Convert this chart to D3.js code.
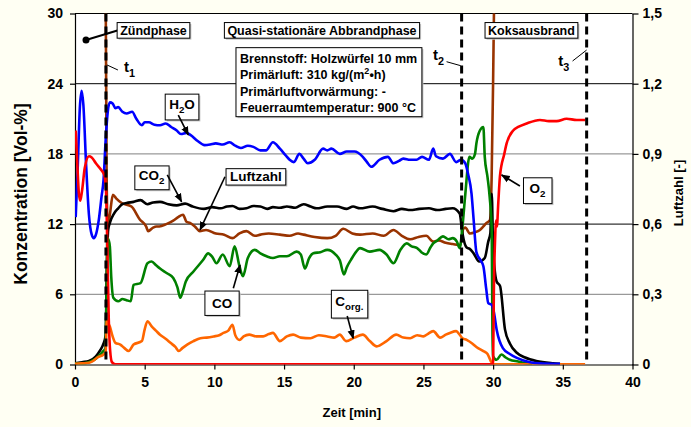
<!DOCTYPE html>
<html>
<head>
<meta charset="utf-8">
<script src="https://cdn.jsdelivr.net/npm/d3@7"></script>
<style>
  body { margin: 0; background: #fffff3; }
  svg text { font-family: "Liberation Sans", Arial, sans-serif; font-weight: bold; fill: #000; }
</style>
</head>
<body>
<svg id="chart"></svg>
<script>
// --- data: [Zeit in min, value] ---
var xTicks = [0, 5, 10, 15, 20, 25, 30, 35, 40];
var yTicks = [0, 6, 12, 18, 24, 30];
var y2Ticks = [0, 0.3, 0.6, 0.9, 1.2, 1.5];
var phaseTimes = [2.22, 27.74, 36.71];   // t1, t2, t3

var h2o = [[0.05,12.6],[0.2,17],[0.35,22],[0.48,23.4],[0.6,22.2],[0.8,17],[1.0,12.8],[1.2,11.1],[1.35,10.8],[1.5,11.1],[1.7,12.3],[1.9,14.3],[2.05,15.8],[2.2,19.2],[2.35,21.6],[2.5,22.4],[2.7,22.3],[2.9,21.9],[3.1,22.0],[3.4,21.6],[3.7,21.45],[4.1,21.6],[4.4,21.0],[4.8,20.45],[5.0,20.7],[5.3,20.7],[5.7,20.5],[6.1,20.45],[6.5,20.6],[6.9,20.3],[7.3,20.0],[7.6,19.7],[8.0,19.8],[8.3,19.6],[8.8,19.1],[9.3,18.75],[9.7,18.8],[10.1,18.9],[10.6,18.8],[11.1,19.0],[11.5,18.7],[11.9,18.5],[12.4,18.7],[12.8,18.6],[13.3,18.3],[13.7,18.3],[14.2,19.0],[14.7,18.45],[15.1,17.9],[15.4,17.5],[15.7,17.3],[16.1,18.0],[16.4,17.6],[16.7,17.2],[17.2,17.5],[17.8,18.45],[18.1,18.3],[18.4,18.45],[19.0,18.0],[19.5,18.2],[20.05,18.2],[20.65,17.75],[20.95,17.3],[21.25,16.9],[21.85,17.5],[22.45,17.75],[22.85,17.2],[23.25,17.4],[23.55,17.6],[24.05,17.5],[24.5,17.5],[24.9,17.75],[25.4,17.5],[25.7,18.45],[25.9,17.8],[26.4,17.6],[26.9,18.0],[27.35,17.3],[27.7,17.5],[28.0,17.2],[28.2,16.3],[28.45,14.6],[28.6,12.4],[28.8,9.6],[29.1,8.9],[29.3,8.4],[29.5,6.5],[29.65,5.25],[29.9,5.1],[30.05,4.5],[30.25,3.0],[30.7,1.4],[31.2,0.9],[31.7,0.57],[32.65,0.2],[33.3,0.1],[34.8,0.05]];

var co2 = [[0,0.1],[0.5,0.2],[1.0,0.3],[1.5,0.7],[1.8,1.2],[2.05,1.8],[2.2,2.5],[2.28,8],[2.38,11.5],[2.5,12.1],[2.8,12.9],[3.1,13.35],[3.4,13.7],[3.7,13.8],[4.2,13.9],[4.7,14.05],[5.2,13.7],[5.6,13.85],[6.1,13.9],[6.7,13.7],[7.3,13.6],[7.9,13.75],[8.45,13.5],[9.25,13.3],[9.85,13.45],[10.45,13.35],[10.9,13.5],[11.3,13.55],[11.8,13.3],[12.3,13.35],[12.8,13.55],[13.3,13.5],[13.8,13.3],[14.2,13.45],[14.7,13.4],[15.2,13.5],[15.8,13.4],[16.4,13.7],[16.9,13.5],[17.35,13.35],[18.1,13.5],[18.8,13.5],[19.5,13.3],[19.95,13.5],[20.45,13.35],[21.35,13.5],[22.05,13.3],[22.85,13.1],[23.45,13.3],[24.05,13.2],[24.7,13.3],[25.4,13.35],[26.0,13.2],[26.6,13.3],[27.1,13.35],[27.6,12.9],[27.8,11.2],[28.1,10.0],[28.3,9.9],[28.6,9.5],[29.0,8.8],[29.4,9.1],[29.65,10.5],[29.8,11.2],[29.9,14.6],[30.0,10],[30.25,7.1],[30.5,6.7],[30.85,3.0],[31.2,1.8],[31.7,1.0],[32.3,0.6],[33.1,0.3],[34.3,0.1],[34.8,0.05]];

var co = [[0,0.1],[0.5,0.1],[1.0,0.2],[1.5,0.5],[2.0,1.1],[2.18,1.4],[2.25,5],[2.32,10.8],[2.42,10.6],[2.5,10.1],[2.6,7.5],[2.75,5.7],[3.1,5.4],[3.4,5.6],[3.7,5.5],[4.0,5.4],[4.2,6.8],[4.7,6.95],[5.2,8.65],[5.5,8.8],[5.8,8.5],[6.1,8.2],[6.6,7.8],[7.05,7.4],[7.35,6.6],[7.55,5.7],[7.75,6.3],[7.95,7.1],[8.5,7.95],[9.2,8.95],[9.55,9.5],[9.85,9.2],[10.15,8.65],[10.6,9.4],[11.1,8.4],[11.45,10.1],[11.8,8.4],[12.05,7.55],[12.4,9.1],[12.9,9.8],[13.3,9.5],[13.75,9.25],[14.2,9.1],[14.7,9.25],[15.2,9.25],[15.9,9.65],[16.2,9.4],[16.5,8.2],[16.8,9.1],[17.1,9.5],[17.6,9.6],[18.1,9.8],[18.7,9.4],[19.0,8.9],[19.3,7.7],[19.5,8.3],[19.8,8.95],[20.15,9.6],[20.45,9.95],[21.15,9.65],[21.85,9.8],[22.35,9.4],[22.85,8.65],[23.35,9.8],[23.8,10.35],[24.15,10.1],[24.55,9.95],[24.85,9.6],[25.2,9.4],[25.5,10.0],[25.7,10.35],[26.0,10.6],[26.4,10.95],[26.8,10.7],[27.1,10.8],[27.4,10.5],[27.6,9.95],[27.8,11.8],[28.0,14.5],[28.3,17.75],[28.5,17.6],[28.7,18.0],[28.8,18.9],[29.05,20.0],[29.3,20.3],[29.4,17.75],[29.6,16.0],[29.75,14.35],[29.9,11.5],[29.95,3],[30.0,0.7],[30.25,0.4],[30.6,0.85],[30.9,0.6],[31.2,0.4],[31.8,0.25],[32.2,0.14],[32.8,0.05]];

var corg = [[0,0.05],[0.5,0.1],[1.0,0.15],[1.3,0.3],[1.6,0.6],[2.05,0.85],[2.2,1.1],[2.28,3.8],[2.4,3.5],[2.5,3.25],[2.7,2.4],[2.9,1.85],[3.25,1.7],[3.55,1.4],[3.85,1.15],[4.2,1.7],[4.8,2.0],[5.0,3.0],[5.2,3.7],[5.5,3.25],[5.8,2.9],[6.1,2.55],[6.5,2.2],[6.85,1.85],[7.2,1.5],[7.45,1.15],[7.7,1.4],[8.05,1.7],[8.5,2.0],[9.0,2.25],[9.45,2.3],[9.95,2.4],[10.35,2.5],[10.65,2.7],[11.0,2.9],[11.3,3.4],[11.5,2.5],[11.8,2.1],[12.1,2.4],[12.5,2.55],[13.0,2.4],[13.5,2.4],[13.9,2.6],[14.2,2.7],[14.7,2.0],[15.2,2.4],[15.65,2.55],[16.2,2.3],[16.9,2.25],[17.5,2.5],[18.1,2.4],[18.6,2.3],[19.0,2.55],[19.45,2.0],[20.05,2.3],[20.65,2.55],[21.15,2.0],[21.65,1.55],[22.35,2.0],[23.05,2.55],[23.55,2.3],[24.05,2.25],[24.55,2.5],[25.0,2.4],[25.3,2.6],[25.7,2.85],[26.2,2.3],[26.6,2.55],[26.9,2.7],[27.35,2.85],[27.6,2.55],[27.8,2.25],[28.1,2.1],[28.5,1.8],[28.8,1.5],[29.3,1.15],[29.6,0.9],[29.9,0.15],[30.1,0.02],[36.6,0.02]];

var o2 = [[0.05,20.0],[0.15,17.5],[0.28,14.6],[0.38,14.0],[0.5,14.8],[0.7,16.8],[1.0,17.8],[1.2,17.7],[1.5,17.2],[1.9,16.6],[2.1,16.2],[2.22,15],[2.32,10],[2.42,4],[2.52,1.2],[2.65,0.2],[2.9,0.02],[29.95,0.02],[30.0,0.3],[30.05,6],[30.15,11],[30.2,12.3],[30.27,11.8],[30.37,13.8],[30.49,16.1],[30.8,18.0],[30.97,18.9],[31.44,20.0],[31.8,20.3],[32.4,20.6],[33.36,20.9],[34.0,20.8],[34.56,20.8],[35.27,21.0],[36.0,20.9],[36.6,20.9]];

// Luftzahl on the right axis (values above 1,5 run off the top)
var lambda = [[2.2,1.6],[2.27,0.8],[2.35,0.59],[2.5,0.64],[2.72,0.725],[2.95,0.71],[3.35,0.69],[4.05,0.675],[4.65,0.62],[5.1,0.59],[5.25,0.57],[5.6,0.585],[5.85,0.59],[6.05,0.59],[6.55,0.6],[7.05,0.615],[7.4,0.63],[7.75,0.64],[8.0,0.61],[8.25,0.605],[8.6,0.59],[8.95,0.57],[9.4,0.575],[10.1,0.56],[10.7,0.555],[11.3,0.54],[11.8,0.56],[12.3,0.57],[12.9,0.55],[13.3,0.555],[13.9,0.56],[14.7,0.555],[15.4,0.55],[16.0,0.56],[16.4,0.555],[17.2,0.545],[18.1,0.54],[18.7,0.55],[19.25,0.58],[19.9,0.56],[20.45,0.555],[21.35,0.56],[22.15,0.55],[22.85,0.575],[23.45,0.55],[24.05,0.535],[24.65,0.545],[25.2,0.55],[25.7,0.525],[26.1,0.53],[26.6,0.52],[27.1,0.515],[27.65,0.51],[27.86,0.58],[28.0,0.585],[28.34,0.56],[28.7,0.565],[29.05,0.575],[29.3,0.59],[29.53,0.605],[29.77,0.617],[29.89,0.79],[30.0,1.215],[30.08,1.6]];

var width = 691, height = 427;
var svg = d3.select("#chart").attr("width", width).attr("height", height);

var x = d3.scaleLinear().domain([0, 40]).range([75, 632.5]);
var y = d3.scaleLinear().domain([0, 30]).range([364.5, 13.5]);
var y2 = d3.scaleLinear().domain([0, 1.5]).range([364.5, 13.5]);

var defs = svg.append("defs");
defs.append("clipPath").attr("id", "plotclip")
  .append("rect").attr("x", x(0)).attr("y", y(30)).attr("width", x(40) - x(0)).attr("height", y(0) - y(30));
defs.append("marker").attr("id", "arrow")
  .attr("viewBox", "0 0 10 10").attr("refX", 9).attr("refY", 5)
  .attr("markerUnits", "userSpaceOnUse").attr("markerWidth", 9).attr("markerHeight", 9)
  .attr("orient", "auto")
  .append("path").attr("d", "M0,1 L10,5 L0,9 z").attr("fill", "#000");

// plot area
svg.append("rect")
  .attr("x", x(0)).attr("y", y(30))
  .attr("width", x(40) - x(0)).attr("height", y(0) - y(30))
  .attr("fill", "#fff");

// gridlines
svg.append("g").selectAll("line").data(yTicks.filter(function(d){ return d > 0; }))
  .enter().append("line")
  .attr("x1", x(0)).attr("x2", x(40))
  .attr("y1", function(d){ return y(d); }).attr("y2", function(d){ return y(d); })
  .attr("stroke", function(d){ return (d % 12 === 0 || d === 30) ? "#000" : "#808080"; })
  .attr("stroke-width", 1);

// axes
function styleAxis(g, size) {
  g.select(".domain").attr("stroke", "#000").attr("stroke-width", 1.2);
  g.selectAll(".tick line").attr("stroke", "#000").attr("stroke-width", 1.2);
  g.selectAll(".tick text").attr("font-size", size).attr("font-family", "Liberation Sans, Arial, sans-serif").attr("font-weight", "bold").attr("fill", "#000");
}
var gx = svg.append("g").attr("transform", "translate(0," + y(0) + ")")
  .call(d3.axisBottom(x).tickValues(xTicks).tickSize(5).tickSizeOuter(0).tickPadding(8));
styleAxis(gx, 14);
var gy = svg.append("g").attr("transform", "translate(" + x(0) + ",0)")
  .call(d3.axisLeft(y).tickValues(yTicks).tickSize(5).tickSizeOuter(0).tickPadding(7));
styleAxis(gy, 14);
var commaFmt = function(d){ return d === 0 ? "0" : d.toFixed(1).replace(".", ","); };
var gy2 = svg.append("g").attr("transform", "translate(" + x(40) + ",0)")
  .call(d3.axisRight(y2).tickValues(y2Ticks).tickFormat(commaFmt).tickSize(6).tickSizeOuter(0).tickPadding(4));
styleAxis(gy2, 14);

// axis titles
svg.append("text").attr("x", (x(0) + x(40)) / 2 - 2).attr("y", 417)
  .attr("text-anchor", "middle").attr("font-size", 13).text("Zeit [min]");
svg.append("text").attr("transform", "translate(27,194) rotate(-90)")
  .attr("text-anchor", "middle").attr("font-size", 17.5).text("Konzentration [Vol-%]");
svg.append("text").attr("transform", "translate(678,193) rotate(-90)")
  .attr("text-anchor", "middle").attr("dominant-baseline", "central").attr("font-size", 13).text("Luftzahl [-]");

// series
var plot = svg.append("g").attr("clip-path", "url(#plotclip)");
function lineFor(scale) {
  return d3.line()
    .x(function(d){ return x(d[0]); })
    .y(function(d){ return scale(d[1]); })
    .curve(d3.curveMonotoneX);
}
var series = [
  { data: lambda, scale: y2, color: "#993300" },
  { data: co2, scale: y, color: "#000000" },
  { data: co, scale: y, color: "#008000" },
  { data: corg, scale: y, color: "#ff6600" },
  { data: h2o, scale: y, color: "#0000ff" },
  { data: o2, scale: y, color: "#ff0000" }
];
series.forEach(function(s) {
  plot.append("path").datum(s.data)
    .attr("d", lineFor(s.scale))
    .attr("fill", "none")
    .attr("stroke", s.color)
    .attr("stroke-width", 2.6)
    .attr("stroke-linejoin", "round");
});

// phase markers
svg.append("g").selectAll("line").data(phaseTimes).enter().append("line")
  .attr("x1", function(d){ return x(d); }).attr("x2", function(d){ return x(d); })
  .attr("y1", y(30)).attr("y2", y(0.38))
  .attr("stroke", "#000").attr("stroke-width", 3).attr("stroke-dasharray", "8,5");

// annotation helpers
var notes = svg.append("g");

function richText(g, parts, size) {
  var t = g.append("text").attr("font-size", size);
  var shift = 0;
  parts.forEach(function(p) {
    var sp = t.append("tspan").text(p.t);
    var target = p.sub ? size * 0.33 : (p.sup ? -size * 0.4 : 0);
    if (p.sub || p.sup) sp.attr("font-size", size * 0.72);
    if (target !== shift) { sp.attr("dy", target - shift); shift = target; }
  });
  return t;
}

function boxLabel(cx, cy, parts, size, padX, padY) {
  var g = notes.append("g");
  var t = richText(g, parts, size).attr("text-anchor", "middle").attr("x", x(cx)).attr("y", y(cy));
  var bb = t.node().getBBox();
  var top = y(cy) - size * 0.72 - padY, bottom = y(cy) + (parts.some(function(p){ return p.sub; }) ? size * 0.45 : size * 0.05) + padY;
  var left = bb.x - padX, w = bb.width + 2 * padX, h = bottom - top;
  g.insert("rect", "text").attr("x", left + 1.5).attr("y", top + 1.5).attr("width", w).attr("height", h).attr("fill", "#c4c4c4");
  g.insert("rect", "text").attr("x", left).attr("y", top).attr("width", w).attr("height", h)
    .attr("fill", "#fff").attr("stroke", "#000").attr("stroke-width", 1);
}

function arrow(x1, y1, x2, y2v) {
  notes.append("line").attr("x1", x(x1)).attr("y1", y(y1)).attr("x2", x(x2)).attr("y2", y(y2v))
    .attr("stroke", "#000").attr("stroke-width", 1.6).attr("marker-end", "url(#arrow)");
}

function leader(x1, y1, x2, y2v) {
  notes.append("line").attr("x1", x(x1)).attr("y1", y(y1)).attr("x2", x(x2)).attr("y2", y(y2v))
    .attr("stroke", "#000").attr("stroke-width", 1);
}

// phase boxes
notes.append("line").attr("x1", x(0.79)).attr("y1", y(27.74)).attr("x2", x(3.16)).attr("y2", y(28.59))
  .attr("stroke", "#000").attr("stroke-width", 2);
notes.append("circle").attr("cx", x(0.79)).attr("cy", y(27.74)).attr("r", 3.5).attr("fill", "#000");
boxLabel(5.63, 28.2, [{t: "Zündphase"}], 12.5, 3, 3);
boxLabel(17.72, 28.2, [{t: "Quasi-stationäre Abbrandphase"}], 12.5, 3, 3);
boxLabel(32.75, 28.2, [{t: "Koksausbrand"}], 12.5, 3, 3);

// t labels
function tLabel(tx, ty, idx) {
  richText(notes, [{t: "t"}, {t: idx, sub: true}], 15).attr("x", x(tx)).attr("y", y(ty));
}
tLabel(3.52, 25.0, "1");
leader(2.30, 25.6, 3.08, 25.17);
tLabel(25.68, 26.05, "2");
leader(26.66, 25.88, 27.67, 25.54);
tLabel(34.67, 25.5, "3");
leader(35.70, 25.94, 36.71, 26.88);

// info box
var info = notes.append("g");
info.append("rect").attr("x", x(11.55) + 1.5).attr("y", y(27.08) + 1.5)
  .attr("width", x(24.89) - x(11.55)).attr("height", y(21.18) - y(27.08)).attr("fill", "#c4c4c4");
info.append("rect").attr("x", x(11.55)).attr("y", y(27.08))
  .attr("width", x(24.89) - x(11.55)).attr("height", y(21.18) - y(27.08))
  .attr("fill", "#fff").attr("stroke", "#000").attr("stroke-width", 1);
var infoLines = [
  [{t: "Brennstoff: Holzwürfel 10 mm"}],
  [{t: "Primärluft: 310 kg/(m"}, {t: "2", sup: true}, {t: "•h)"}],
  [{t: "Primärluftvorwärmung: -"}],
  [{t: "Feuerraumtemperatur: 900 °C"}]
];
var infoBase = [25.79, 24.36, 22.97, 21.58];
infoLines.forEach(function(parts, i) {
  richText(info, parts, 12.5).attr("x", x(11.84)).attr("y", y(infoBase[i]));
});

// series labels
boxLabel(7.68, 21.85, [{t: "H"}, {t: "2", sub: true}, {t: "O"}], 13.5, 4, 5);
arrow(7.41, 21.32, 8.13, 19.62);
boxLabel(5.50, 15.8, [{t: "CO"}, {t: "2", sub: true}], 13.5, 4, 4);
arrow(6.62, 16.2, 7.65, 13.91);
boxLabel(12.98, 15.65, [{t: "Luftzahl"}], 13.5, 4, 3);
arrow(10.76, 16.05, 8.97, 11.5);
boxLabel(10.55, 4.85, [{t: "CO"}], 13.5, 7, 7);
arrow(11.36, 6.51, 11.84, 8.5);
boxLabel(19.69, 5.0, [{t: "C"}, {t: "org.", sub: true}], 13.5, 4, 6);
arrow(19.53, 4.15, 19.96, 2.24);
boxLabel(33.18, 14.7, [{t: "O"}, {t: "2", sub: true}], 13.5, 6, 5);
arrow(31.92, 15.26, 30.61, 16.2);
</script>
</body>
</html>
